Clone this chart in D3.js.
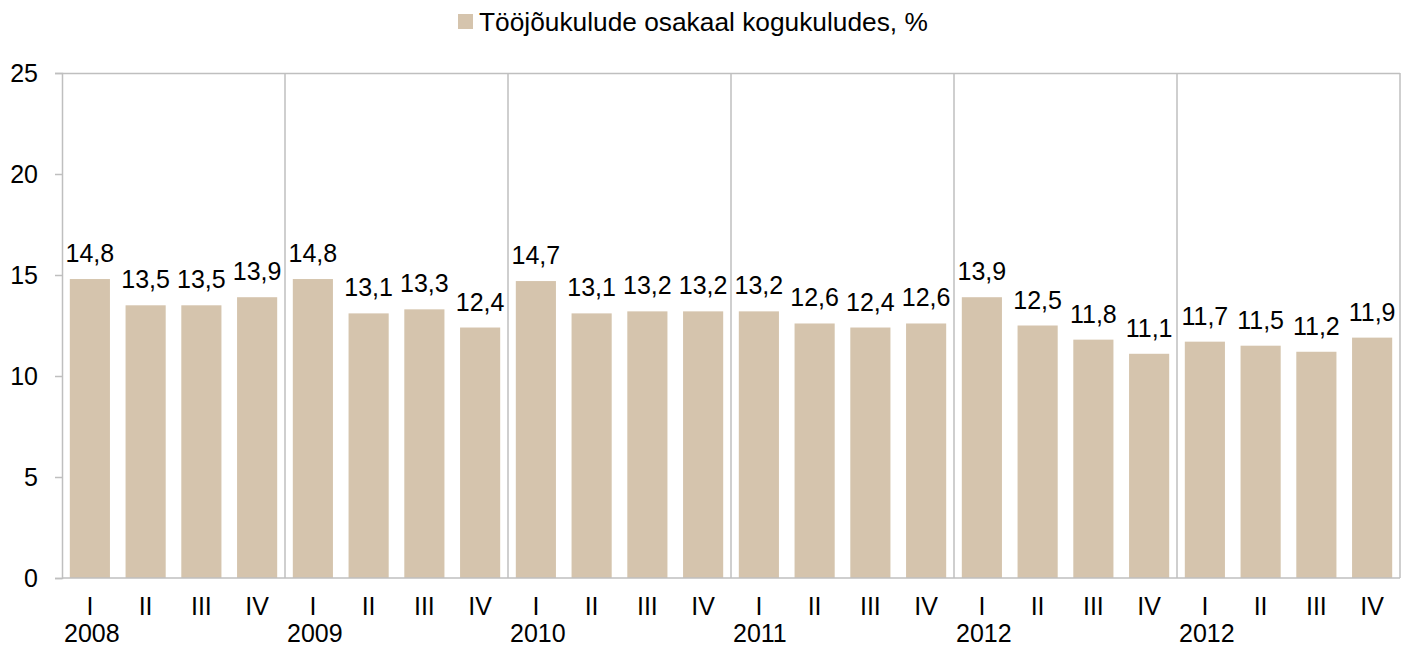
<!DOCTYPE html>
<html>
<head>
<meta charset="utf-8">
<script src="https://cdn.jsdelivr.net/npm/d3@7"></script>
<style>
  body { margin: 0; background: #fff; }
  text { font-family: "Liberation Sans", Arial, sans-serif; fill: #000; }
</style>
</head>
<body>
<div id="chart"></div>
<script>
// data
var years = ['2008', '2009', '2010', '2011', '2012', '2012']
var quarters = ['I', 'II', 'III', 'IV']
var values = [
  14.8, 13.5, 13.5, 13.9,
  14.8, 13.1, 13.3, 12.4,
  14.7, 13.1, 13.2, 13.2,
  13.2, 12.6, 12.4, 12.6,
  13.9, 12.5, 11.8, 11.1,
  11.7, 11.5, 11.2, 11.9
]
var yTicks = [0, 5, 10, 15, 20, 25]
var seriesName = 'Tööjõukulude osakaal kogukuludes, %'

var width = 1415
var height = 647
var margin = { top: 73, right: 15, bottom: 69, left: 62 }
var barColor = '#d5c4ad'
var lineColor = '#bfbfbf'

var svg = d3.select('#chart').append('svg')
  .attr('width', width)
  .attr('height', height)

var idx = d3.range(values.length)

var xScale = d3.scaleBand()
  .domain(idx)
  .range([margin.left, width - margin.right])
  .paddingInner(0.28)
  .paddingOuter(0.14)

var yScale = d3.scaleLinear()
  .domain([0, 25])
  .range([height - margin.bottom, margin.top])

var step = xScale.step()
var x0 = margin.left
var x1 = width - margin.right
var yBottom = yScale(0)
var yTop = yScale(25)

// plot frame: top and right border
svg.append('line')
  .attr('x1', x0).attr('x2', x1)
  .attr('y1', yTop + 0.5).attr('y2', yTop + 0.5)
  .attr('stroke', lineColor).attr('stroke-width', 1.5)
svg.append('line')
  .attr('x1', x1).attr('x2', x1)
  .attr('y1', yTop).attr('y2', yBottom)
  .attr('stroke', lineColor).attr('stroke-width', 1.5)

// year separators
years.slice(1).forEach(function(y, i) {
  var xs = x0 + step * 4 * (i + 1)
  svg.append('line')
    .attr('x1', xs).attr('x2', xs)
    .attr('y1', yTop).attr('y2', yBottom)
    .attr('stroke', lineColor).attr('stroke-width', 1.5)
})

// bars
svg.selectAll('rect.bar')
  .data(values)
  .enter().append('rect')
  .attr('class', 'bar')
  .attr('x', (d, i) => xScale(i))
  .attr('width', xScale.bandwidth())
  .attr('y', d => yScale(d))
  .attr('height', d => yBottom - yScale(d))
  .attr('fill', barColor)

// value labels
svg.selectAll('text.val')
  .data(values)
  .enter().append('text')
  .attr('class', 'val')
  .attr('x', (d, i) => xScale(i) + xScale.bandwidth() / 2)
  .attr('y', d => yScale(d) - 17)
  .attr('text-anchor', 'middle')
  .style('font-size', '25px')
  .text(d => d.toFixed(1).replace('.', ','))

// y axis
var yAxis = d3.axisLeft(yScale)
  .tickValues(yTicks)
  .tickSize(7)
  .tickPadding(17)
  .tickFormat(d => d)

var gy = svg.append('g')
  .attr('transform', 'translate(' + x0 + ',0)')
  .call(yAxis)
gy.select('.domain').attr('stroke', lineColor).attr('stroke-width', 1.5)
gy.selectAll('.tick line').attr('stroke', lineColor).attr('stroke-width', 1.5)
gy.selectAll('.tick text')
  .style('font-size', '25px')
  .style('font-family', '"Liberation Sans", Arial, sans-serif')
  .attr('fill', '#000')

// x axis line
svg.append('line')
  .attr('x1', x0).attr('x2', x1)
  .attr('y1', yBottom).attr('y2', yBottom)
  .attr('stroke', lineColor).attr('stroke-width', 1.5)

// quarter labels
svg.selectAll('text.q')
  .data(idx)
  .enter().append('text')
  .attr('class', 'q')
  .attr('x', i => xScale(i) + xScale.bandwidth() / 2)
  .attr('y', 615)
  .attr('text-anchor', 'middle')
  .style('font-size', '25px')
  .text(i => quarters[i % 4])

// year labels
svg.selectAll('text.yr')
  .data(years)
  .enter().append('text')
  .attr('class', 'yr')
  .attr('x', (d, i) => x0 + step * 4 * i + 2)
  .attr('y', 642)
  .style('font-size', '25px')
  .text(d => d)

// legend
svg.append('rect')
  .attr('x', 458).attr('y', 14)
  .attr('width', 15).attr('height', 15)
  .attr('fill', barColor)
svg.append('text')
  .attr('x', 479).attr('y', 31)
  .style('font-size', '26.3px')
  .text(seriesName)
</script>
</body>
</html>
